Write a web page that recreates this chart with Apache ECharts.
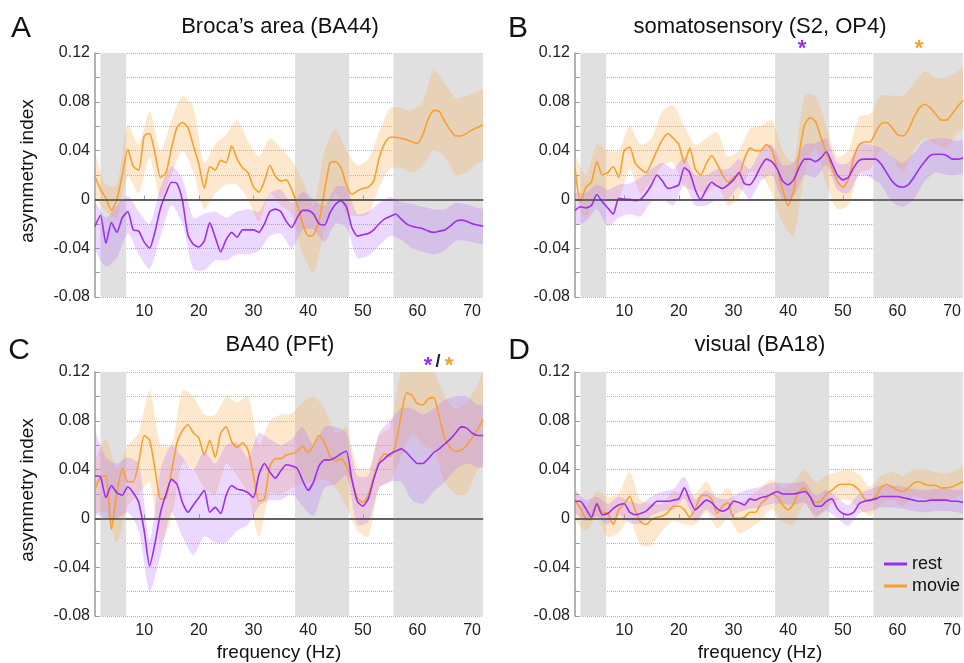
<!DOCTYPE html>
<html>
<head>
<meta charset="utf-8">
<script src="https://cdn.jsdelivr.net/npm/echarts@6.0.0/dist/echarts.min.js"></script>
<style>
  html, body { margin: 0; padding: 0; background: #fff; }
  #chart { width: 964px; height: 663px; }
</style>
</head>
<body>
<div id="chart"></div>
<script>
// frequency grid of the mean curves (Hz)
const freq = [1,2,3,4,5,6,7,8,9,10,11,12,13,14,15,16,17,18,19,20,21,22,23,24,25,26,27,28,29,30,
  31,32,33,34,35,36,37,38,39,40,41,42,43,44,45,46,47,48,49,50,51,52,53,54,55,56,57,58,59,60,
  61,62,63,64,65,66,67,68,69,70,71,72];
// frequencies where the shaded error bands were read
const bandFreq = [1,3,5,7,9,11,13,15,17,19,21,23,25,27,29,31,33,35,37,39,41,43,45,47,49,51,53,55,57,59,61,63,65,67,69,71,72];

const xTicks = [10, 20, 30, 40, 50, 60, 70];
const grayBands = [[2, 6.7], [37.6, 47.5], [55.6, 72]];

const panelTitles = ['Broca\u2019s area (BA44)', 'somatosensory (S2, OP4)', 'BA40 (PFt)', 'visual (BA18)'];
const panelLetters = ['A', 'B', 'C', 'D'];

// A - Broca's area
const aMovie = [0.019,0.008,0.001,-0.009,0.000,0.020,0.041,0.027,0.024,0.052,
  0.054,0.037,0.018,0.022,0.042,0.059,0.063,0.059,0.044,0.029,
  0.009,0.027,0.024,0.032,0.030,0.044,0.033,0.026,0.022,0.010,
  0.006,0.015,0.028,0.019,0.015,0.016,0.008,-0.004,-0.020,-0.030,
  -0.029,-0.018,0.007,0.030,0.031,0.026,0.012,0.004,0.007,0.009,
  0.010,0.015,0.034,0.046,0.051,0.051,0.050,0.049,0.047,0.046,
  0.053,0.066,0.073,0.072,0.064,0.057,0.052,0.052,0.054,0.057,
  0.059,0.061];
const aMovieHi = [0.036,0.012,0.012,0.061,0.045,0.072,0.040,0.065,0.085,0.075,0.030,0.045,0.053,0.065,0.048,0.035,0.050,0.042,0.032,0.015,-0.005,0.040,0.058,0.040,0.028,0.033,0.055,0.075,0.075,0.073,0.080,0.106,0.095,0.083,0.085,0.088,0.090];
const aMovieLo = [0.003,-0.010,-0.015,0.019,0.005,0.034,0.001,0.020,0.040,0.022,-0.008,0.005,0.012,0.012,0.000,-0.018,0.005,-0.005,-0.012,-0.045,-0.060,-0.025,0.005,-0.012,-0.014,-0.012,0.010,0.025,0.026,0.022,0.028,0.040,0.035,0.020,0.022,0.030,0.032];
const aRest = [-0.022,-0.013,-0.036,-0.019,-0.027,-0.015,-0.010,-0.025,-0.026,-0.035,
  -0.040,-0.026,-0.007,0.005,0.014,0.013,-0.001,-0.029,-0.037,-0.039,
  -0.034,-0.019,-0.031,-0.043,-0.033,-0.027,-0.031,-0.025,-0.025,-0.025,
  -0.027,-0.020,-0.010,-0.008,-0.010,-0.018,-0.023,-0.015,-0.009,-0.009,
  -0.012,-0.020,-0.021,-0.011,-0.004,-0.001,-0.006,-0.023,-0.030,-0.029,
  -0.028,-0.025,-0.020,-0.016,-0.014,-0.012,-0.016,-0.020,-0.022,-0.023,
  -0.024,-0.026,-0.027,-0.026,-0.025,-0.022,-0.018,-0.017,-0.018,-0.020,
  -0.021,-0.022];
const aRestHi = [-0.003,-0.015,-0.005,0.003,-0.010,-0.020,0.010,0.027,0.017,-0.015,-0.012,-0.010,-0.015,-0.010,-0.008,-0.010,0.005,0.008,-0.003,0.006,0.000,-0.005,0.010,0.010,-0.012,-0.010,-0.003,0.002,-0.002,-0.004,-0.006,-0.008,-0.008,-0.003,-0.004,-0.007,-0.008];
const aRestLo = [-0.040,-0.055,-0.048,-0.028,-0.045,-0.057,-0.030,-0.005,-0.020,-0.057,-0.058,-0.050,-0.050,-0.045,-0.045,-0.042,-0.030,-0.028,-0.040,-0.025,-0.025,-0.035,-0.020,-0.023,-0.048,-0.046,-0.038,-0.030,-0.033,-0.040,-0.043,-0.045,-0.042,-0.034,-0.034,-0.036,-0.036];

// B - somatosensory
const bMovie = [0.025,-0.002,0.010,0.014,0.031,0.020,0.022,0.027,0.018,0.040,
  0.043,0.030,0.025,0.022,0.030,0.040,0.049,0.054,0.050,0.045,
  0.030,0.042,0.025,0.020,0.029,0.036,0.029,0.020,0.014,0.018,
  0.020,0.033,0.042,0.040,0.040,0.045,0.041,0.025,0.008,-0.005,
  0.007,0.037,0.061,0.067,0.064,0.051,0.038,0.026,0.015,0.010,
  0.016,0.034,0.045,0.047,0.047,0.055,0.062,0.063,0.059,0.053,
  0.052,0.057,0.067,0.075,0.078,0.075,0.070,0.065,0.065,0.070,
  0.076,0.081];
const bMovieHi = [0.035,0.020,0.045,0.040,0.040,0.060,0.045,0.050,0.072,0.077,0.060,0.045,0.050,0.055,0.035,0.040,0.058,0.060,0.065,0.040,0.030,0.085,0.085,0.060,0.035,0.040,0.068,0.070,0.085,0.085,0.085,0.095,0.105,0.100,0.100,0.105,0.108];
const bMovieLo = [0.005,-0.015,0.005,0.000,0.000,0.025,0.005,0.015,0.028,0.030,0.010,0.008,0.005,0.012,-0.005,0.002,0.022,0.020,0.005,-0.020,-0.030,0.020,0.042,0.012,-0.008,-0.005,0.022,0.025,0.040,0.035,0.022,0.040,0.050,0.045,0.042,0.055,0.058];
const bRest = [-0.009,-0.006,-0.007,-0.005,0.004,-0.002,-0.007,-0.012,0.001,0.000,
  0.000,-0.001,0.000,0.005,0.012,0.020,0.015,0.009,0.010,0.012,
  0.026,0.022,0.008,0.000,0.008,0.014,0.011,0.009,0.012,0.016,
  0.022,0.013,0.012,0.018,0.027,0.033,0.031,0.025,0.015,0.012,
  0.016,0.026,0.033,0.033,0.031,0.034,0.039,0.030,0.020,0.016,
  0.018,0.026,0.032,0.033,0.033,0.033,0.029,0.022,0.015,0.011,
  0.010,0.012,0.018,0.025,0.031,0.036,0.037,0.037,0.036,0.033,
  0.033,0.034];
const bRestHi = [0.005,0.005,0.012,0.008,0.012,0.013,0.018,0.025,0.030,0.025,0.035,0.020,0.020,0.025,0.025,0.033,0.025,0.040,0.045,0.028,0.030,0.045,0.046,0.050,0.030,0.030,0.045,0.045,0.042,0.035,0.030,0.038,0.048,0.050,0.050,0.048,0.048];
const bRestLo = [-0.020,-0.018,-0.008,-0.022,-0.015,-0.012,-0.014,-0.002,0.000,-0.005,0.012,-0.005,-0.005,0.000,0.000,0.010,0.000,0.015,0.020,0.000,0.003,0.020,0.018,0.028,0.008,0.005,0.020,0.018,0.012,-0.002,-0.006,0.000,0.015,0.022,0.020,0.020,0.022];

// C - BA40
const cMovie = [0.024,0.034,0.035,-0.009,0.021,0.041,0.030,0.030,0.046,0.068,
  0.064,0.040,0.016,0.017,0.038,0.062,0.072,0.077,0.070,0.066,
  0.052,0.064,0.050,0.070,0.075,0.063,0.058,0.062,0.056,0.035,
  0.014,0.016,0.043,0.049,0.049,0.052,0.053,0.055,0.059,0.054,
  0.060,0.068,0.062,0.051,0.047,0.049,0.043,0.031,0.017,0.013,
  0.019,0.034,0.047,0.053,0.051,0.060,0.084,0.103,0.101,0.094,
  0.093,0.098,0.099,0.083,0.066,0.058,0.055,0.056,0.060,0.066,
  0.073,0.081];
const cMovieHi = [0.045,0.065,0.040,0.060,0.070,0.105,0.060,0.060,0.105,0.100,0.085,0.085,0.100,0.095,0.100,0.060,0.080,0.085,0.086,0.095,0.100,0.090,0.070,0.075,0.042,0.040,0.068,0.075,0.120,0.125,0.120,0.120,0.100,0.090,0.095,0.110,0.120];
const cMovieLo = [0.005,0.005,-0.020,0.010,0.020,0.030,-0.020,0.000,0.045,0.040,0.025,0.020,0.045,0.035,0.020,-0.015,0.020,0.020,0.025,0.028,0.030,0.032,0.025,0.010,-0.010,-0.015,0.025,0.030,0.050,0.070,0.060,0.055,0.030,0.020,0.020,0.040,0.045];
const cRest = [0.035,0.034,0.017,0.027,0.021,0.019,0.026,0.021,0.013,-0.010,
  -0.039,-0.020,0.005,0.020,0.032,0.028,0.013,0.005,0.011,0.017,
  0.023,0.005,0.009,0.004,0.019,0.027,0.024,0.023,0.021,0.017,
  0.036,0.045,0.038,0.033,0.039,0.044,0.043,0.041,0.031,0.023,
  0.030,0.043,0.048,0.048,0.050,0.053,0.055,0.032,0.014,0.010,
  0.016,0.032,0.045,0.049,0.053,0.055,0.057,0.054,0.049,0.045,
  0.045,0.049,0.054,0.057,0.061,0.065,0.070,0.075,0.074,0.070,
  0.068,0.068];
const cRestHi = [0.070,0.050,0.045,0.050,0.045,-0.018,0.040,0.060,0.050,0.040,0.055,0.045,0.060,0.062,0.050,0.070,0.065,0.060,0.065,0.075,0.060,0.075,0.075,0.070,0.035,0.035,0.070,0.080,0.090,0.090,0.085,0.090,0.097,0.100,0.100,0.093,0.093];
const cRestLo = [0.005,0.000,0.000,0.005,-0.010,-0.060,-0.030,0.005,-0.015,-0.030,-0.015,-0.020,-0.020,-0.010,-0.005,0.010,0.015,0.015,0.020,0.010,0.002,0.025,0.028,0.035,-0.005,-0.003,0.025,0.030,0.030,0.015,0.012,0.022,0.030,0.040,0.045,0.042,0.042];

// D - visual
const dMovie = [0.015,0.008,0.000,-0.001,0.013,0.005,0.004,-0.005,0.007,0.012,
  0.018,0.007,-0.003,-0.005,-0.001,0.001,0.002,0.005,0.010,0.010,
  0.007,0.001,0.008,0.018,0.019,0.016,0.004,0.010,0.013,0.000,
  0.000,0.001,0.005,0.005,0.012,0.016,0.020,0.018,0.011,0.007,
  0.012,0.022,0.025,0.018,0.013,0.014,0.020,0.023,0.027,0.028,
  0.028,0.027,0.023,0.016,0.014,0.018,0.025,0.028,0.026,0.023,
  0.022,0.025,0.029,0.030,0.028,0.027,0.027,0.025,0.025,0.026,
  0.028,0.030];
const dMovieHi = [0.025,0.010,0.022,0.018,0.020,0.038,0.015,0.012,0.012,0.022,0.020,0.020,0.030,0.018,0.025,0.012,0.018,0.025,0.032,0.025,0.030,0.040,0.030,0.035,0.038,0.040,0.036,0.026,0.035,0.038,0.035,0.040,0.040,0.038,0.037,0.040,0.042];
const dMovieLo = [0.000,-0.010,0.000,-0.015,-0.012,0.000,-0.022,-0.022,-0.010,-0.002,-0.005,-0.005,0.005,-0.008,0.000,-0.012,-0.008,-0.002,0.008,-0.003,-0.005,0.012,0.000,0.008,0.015,0.015,0.008,0.002,0.012,0.015,0.010,0.018,0.016,0.015,0.014,0.018,0.020];
const dRest = [0.014,0.014,0.008,0.001,0.012,0.003,0.004,0.008,0.011,0.012,
  0.005,0.003,0.004,0.006,0.010,0.014,0.014,0.014,0.015,0.016,
  0.025,0.015,0.007,0.011,0.015,0.013,0.008,0.006,0.008,0.014,
  0.013,0.011,0.016,0.015,0.017,0.018,0.020,0.022,0.020,0.020,
  0.020,0.021,0.022,0.018,0.010,0.010,0.014,0.016,0.008,0.004,
  0.003,0.005,0.012,0.014,0.015,0.016,0.018,0.018,0.018,0.018,
  0.017,0.016,0.015,0.014,0.014,0.015,0.015,0.015,0.015,0.014,
  0.014,0.013];
const dRestHi = [0.022,0.015,0.018,0.012,0.018,0.014,0.012,0.018,0.022,0.024,0.034,0.016,0.023,0.017,0.016,0.021,0.024,0.026,0.029,0.029,0.029,0.030,0.019,0.023,0.017,0.011,0.020,0.024,0.027,0.027,0.026,0.024,0.023,0.024,0.024,0.023,0.023];
const dRestLo = [0.005,-0.002,0.002,-0.005,0.003,-0.004,-0.004,0.002,0.006,0.007,0.016,-0.002,0.007,0.000,0.000,0.005,0.008,0.009,0.012,0.012,0.011,0.013,0.002,0.006,0.000,-0.006,0.004,0.006,0.009,0.009,0.008,0.006,0.005,0.006,0.006,0.005,0.004];

const panels = [
  { rest: aRest, restHi: aRestHi, restLo: aRestLo, movie: aMovie, movieHi: aMovieHi, movieLo: aMovieLo },
  { rest: bRest, restHi: bRestHi, restLo: bRestLo, movie: bMovie, movieHi: bMovieHi, movieLo: bMovieLo },
  { rest: cRest, restHi: cRestHi, restLo: cRestLo, movie: cMovie, movieHi: cMovieHi, movieLo: cMovieLo },
  { rest: dRest, restHi: dRestHi, restLo: dRestLo, movie: dMovie, movieHi: dMovieHi, movieLo: dMovieLo }
];

const REST = '#9b2ef0';
const MOVIE = '#f5a030';
const FONT = '"Liberation Sans", Arial, Helvetica, sans-serif';

const grids = [
  { left: 95, top: 53, width: 388, height: 244 },
  { left: 575, top: 53, width: 388, height: 244 },
  { left: 95, top: 372, width: 388, height: 244 },
  { left: 575, top: 372, width: 388, height: 244 }
];

function pts(xs, ys) {
  return xs.map((x, k) => [x, ys[k]]);
}

// shaded band: polygon through the upper values and back along the lower ones
function bandSeries(i, hi, lo, fill) {
  const upper = pts(bandFreq, hi);
  const lower = pts(bandFreq, lo);
  return {
    type: 'custom', xAxisIndex: i, yAxisIndex: i, silent: true, z: 1,
    data: [[bandFreq[0], lo[0], hi[0]]],
    encode: { x: 0, y: [1, 2] },
    renderItem: function (params, api) {
      const top = upper.map(d => api.coord(d));
      const bot = lower.map(d => api.coord(d)).reverse();
      const cs = params.coordSys;
      return {
        type: 'polygon',
        shape: { points: top.concat(bot), smooth: 0.25 },
        style: { fill: fill, stroke: null },
        clipPath: { type: 'rect', shape: { x: cs.x, y: cs.y, width: cs.width, height: cs.height } }
      };
    }
  };
}

const xAxes = [], yAxes = [], series = [];
panels.forEach((p, i) => {
  xAxes.push({
    type: 'value', gridIndex: i, min: 1, max: 72,
    axisLine: { lineStyle: { color: '#999', width: 1.5 } },
    axisTick: { inside: true, length: 4, customValues: xTicks, lineStyle: { color: '#999' } },
    axisLabel: { customValues: xTicks, margin: 7, fontSize: 16, color: '#222', fontFamily: FONT },
    splitLine: { show: false }
  });
  yAxes.push({
    type: 'value', gridIndex: i, min: -0.08, max: 0.12, interval: 0.02,
    axisLine: { show: true, lineStyle: { color: '#999', width: 1.5 } },
    axisTick: { inside: true, length: 4, lineStyle: { color: '#999' } },
    axisLabel: {
      margin: 5, fontSize: 16, color: '#222', fontFamily: FONT,
      formatter: v => {
        const k = Math.round(v * 100);
        if (k % 4 !== 0) return '';
        return k === 0 ? '0' : (k / 100).toFixed(2);
      }
    },
    splitLine: { show: true, lineStyle: { color: '#b5b5b5', type: 'dotted', width: 1 } }
  });

  // gray frequency bands
  series.push({
    type: 'line', xAxisIndex: i, yAxisIndex: i, data: [], z: -1, silent: true,
    markArea: {
      silent: true,
      itemStyle: { color: '#e0e0e0' },
      data: grayBands.map(b => [{ xAxis: b[0] }, { xAxis: b[1] }])
    }
  });

  series.push(bandSeries(i, p.movieHi, p.movieLo, 'rgba(250,180,90,0.30)'));
  series.push(bandSeries(i, p.restHi, p.restLo, 'rgba(185,110,250,0.28)'));

  series.push({
    name: 'movie', type: 'line', xAxisIndex: i, yAxisIndex: i,
    data: pts(freq, p.movie), symbol: 'none', smooth: 0.2, z: 3,
    itemStyle: { color: MOVIE }, lineStyle: { color: MOVIE, width: 1.6 }
  });
  series.push({
    name: 'rest', type: 'line', xAxisIndex: i, yAxisIndex: i,
    data: pts(freq, p.rest), symbol: 'none', smooth: 0.2, z: 3,
    itemStyle: { color: REST }, lineStyle: { color: REST, width: 1.6 },
    markLine: {
      silent: true, symbol: 'none', label: { show: false },
      lineStyle: { color: '#444', width: 1.5, type: 'solid' },
      data: [{ yAxis: 0 }]
    }
  });
});

function txt(x, y, text, size, extra) {
  return {
    type: 'text', x: x, y: y, silent: true,
    style: Object.assign({ text: text, fontSize: size, fontFamily: FONT, fill: '#111', align: 'center', verticalAlign: 'middle' }, extra || {})
  };
}

const titleXY = [[280, 27], [760, 27], [280, 345], [760, 345]];
const letterXY = [[21, 29], [518, 29], [19, 351], [519, 351]];
const graphics = [];
panels.forEach((p, i) => {
  graphics.push(txt(titleXY[i][0], titleXY[i][1], panelTitles[i], 22));
  graphics.push(txt(letterXY[i][0], letterXY[i][1], panelLetters[i], 30));
});
// y-axis names (left column only)
[[28, 171], [28, 490]].forEach(c => {
  graphics.push({
    type: 'text', x: c[0], y: c[1], rotation: Math.PI / 2, silent: true,
    style: { text: 'asymmetry index', fontSize: 19, fontFamily: FONT, fill: '#111', align: 'center', verticalAlign: 'middle' }
  });
});
// x-axis names (bottom row only)
graphics.push(txt(279, 653, 'frequency (Hz)', 19));
graphics.push(txt(760, 653, 'frequency (Hz)', 19));
// significance markers
graphics.push(txt(802, 49, '*', 22, { fill: REST, fontWeight: 'bold' }));
graphics.push(txt(919, 49, '*', 22, { fill: MOVIE, fontWeight: 'bold' }));
graphics.push(txt(428, 366, '*', 22, { fill: REST, fontWeight: 'bold' }));
graphics.push(txt(438, 362, '/', 18, { fill: '#222', fontWeight: 'bold' }));
graphics.push(txt(449, 366, '*', 22, { fill: MOVIE, fontWeight: 'bold' }));

const chart = echarts.init(document.getElementById('chart'), null, { renderer: 'canvas' });
chart.setOption({
  animation: false,
  backgroundColor: '#fff',
  grid: grids,
  xAxis: xAxes,
  yAxis: yAxes,
  legend: {
    data: [{ name: 'rest', icon: 'rect' }, { name: 'movie', icon: 'rect' }],
    orient: 'vertical', left: 879, top: 550,
    itemWidth: 23, itemHeight: 3, itemGap: 4,
    textStyle: { fontSize: 18, color: '#111', fontFamily: FONT },
    selectedMode: false
  },
  series: series,
  graphic: graphics
});
</script>
</body>
</html>
